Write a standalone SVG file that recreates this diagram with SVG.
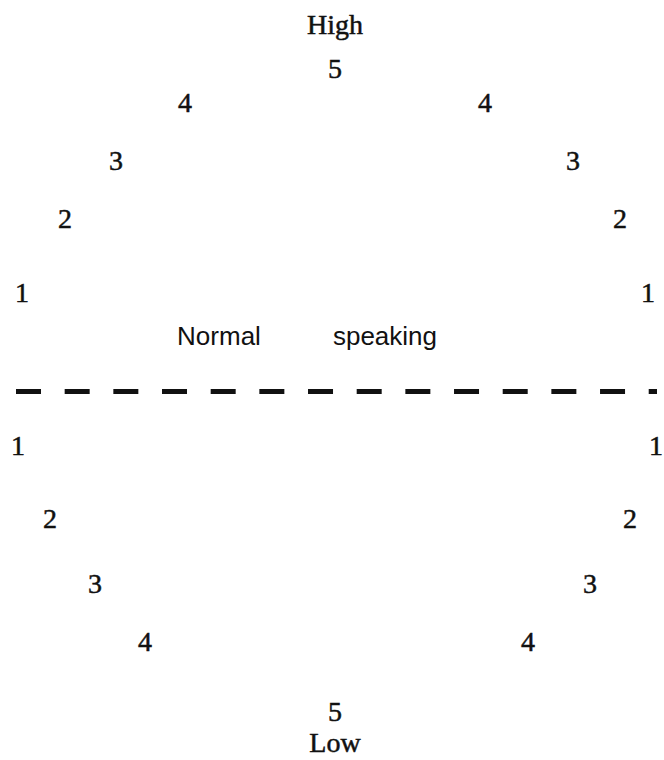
<svg xmlns="http://www.w3.org/2000/svg" width="664" height="760" viewBox="0 0 664 760">
<style>
.n{font-family:"Liberation Serif","DejaVu Serif",serif;font-size:28px;fill:#111;stroke:#111;stroke-width:0.5;text-anchor:middle}
.s{font-family:"Liberation Sans",Arial,sans-serif;font-size:26px;fill:#111;text-anchor:middle}
.d{stroke:#111;stroke-width:5;stroke-dasharray:25 23.67;fill:none}
</style>
<rect width="664" height="760" fill="#fff"/>
<g id="high"><text class="n" x="335" y="34">High</text></g>
<g id="top5"><text class="n" x="335" y="78">5</text></g>
<g id="up4l"><text class="n" x="185" y="112">4</text></g>
<g id="up4r"><text class="n" x="485" y="112">4</text></g>
<g id="up3l"><text class="n" x="116" y="170">3</text></g>
<g id="up3r"><text class="n" x="573" y="170">3</text></g>
<g id="up2l"><text class="n" x="65" y="228">2</text></g>
<g id="up2r"><text class="n" x="620" y="228">2</text></g>
<g id="up1l"><text class="n" x="22" y="302">1</text></g>
<g id="up1r"><text class="n" x="648" y="302">1</text></g>
<g id="normal"><text class="s" x="219" y="345">Normal</text></g>
<g id="speaking"><text class="s" x="385" y="345">speaking</text></g>
<g id="connectors"><line class="d" x1="16" y1="391.5" x2="657" y2="391.5"/></g>
<g id="lo1l"><text class="n" x="18" y="455">1</text></g>
<g id="lo1r"><text class="n" x="656" y="455">1</text></g>
<g id="lo2l"><text class="n" x="50" y="528">2</text></g>
<g id="lo2r"><text class="n" x="630" y="528">2</text></g>
<g id="lo3l"><text class="n" x="95" y="593">3</text></g>
<g id="lo3r"><text class="n" x="590" y="593">3</text></g>
<g id="lo4l"><text class="n" x="145" y="651">4</text></g>
<g id="lo4r"><text class="n" x="528" y="651">4</text></g>
<g id="bot5"><text class="n" x="335" y="721">5</text></g>
<g id="low"><text class="n" x="335" y="752">Low</text></g>
</svg>
